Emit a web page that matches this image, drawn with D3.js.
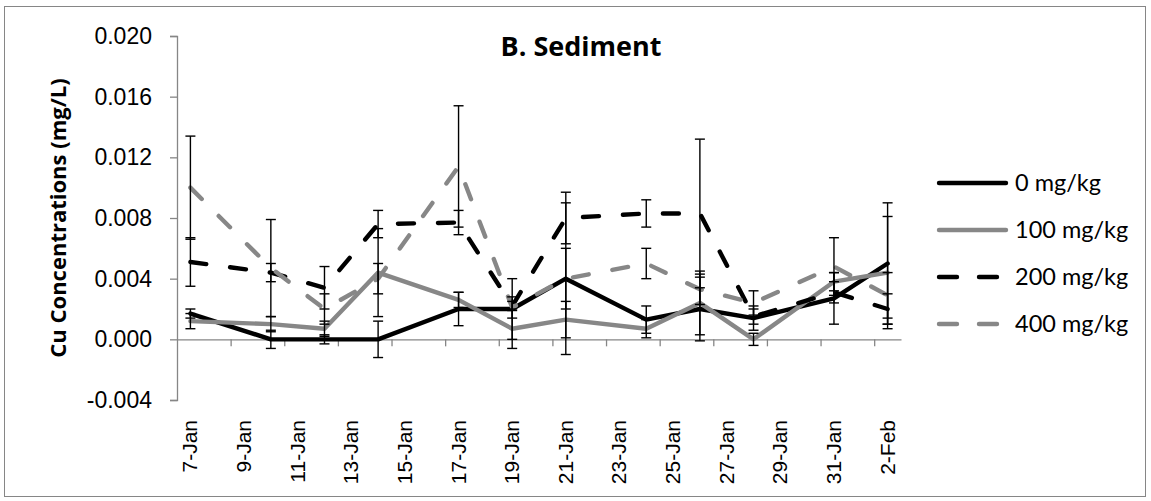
<!DOCTYPE html>
<html>
<head>
<meta charset="utf-8">
<script src="https://cdn.jsdelivr.net/npm/d3@7.9.0/dist/d3.min.js"></script>
<style>
  body { margin: 0; background: #fff; }
  svg { display: block; }
</style>
</head>
<body>
<svg id="chart" width="1151" height="501"></svg>
<script>
// sampling dates (Excel date axis, one slot per day)
const dates = ["2013-01-07", "2013-01-10", "2013-01-12", "2013-01-14", "2013-01-17", "2013-01-19",
               "2013-01-21", "2013-01-24", "2013-01-26", "2013-01-28", "2013-01-31", "2013-02-02"];
const tickLabels = ["7-Jan", "9-Jan", "11-Jan", "13-Jan", "15-Jan", "17-Jan", "19-Jan",
                    "21-Jan", "23-Jan", "25-Jan", "27-Jan", "29-Jan", "31-Jan", "2-Feb"];
const tickDates = ["2013-01-07", "2013-01-09", "2013-01-11", "2013-01-13", "2013-01-15", "2013-01-17", "2013-01-19",
                   "2013-01-21", "2013-01-23", "2013-01-25", "2013-01-27", "2013-01-29", "2013-01-31", "2013-02-02"];
const yTicks = [-0.004, 0.000, 0.004, 0.008, 0.012, 0.016, 0.020];

const seriesNames = ["0 mg/kg", "100 mg/kg", "200 mg/kg", "400 mg/kg"];
const cu0   = [0.0017, 0.0000, 0.0000, 0.0000, 0.0020, 0.0020, 0.0040, 0.0013, 0.0020, 0.0014, 0.0027, 0.0050];
const err0  = [0.0003, 0.0006, 0.0003, 0.0012, 0.0011, 0.0020, 0.0020, 0.0009, 0.0021, 0.0008, 0.0017, 0.0040];
const cu100  = [0.0012, 0.0010, 0.0007, 0.0044, 0.0026, 0.0007, 0.0013, 0.0007, 0.0024, 0.0000, 0.0038, 0.0044];
const err100 = [0.0005, 0.0005, 0.0005, 0.0029, 0.0005, 0.0013, 0.0012, 0.0006, 0.0021, 0.0004, 0.0006, 0.0037];
const cu200  = [0.0051, 0.0044, 0.0034, 0.0076, 0.0077, 0.0022, 0.0080, 0.0083, 0.0083, 0.0015, 0.0031, 0.0020];
const err200 = [0.0016, 0.0006, 0.0014, 0.0009, 0.0008, 0.0003, 0.0017, 0.0009, 0.0049, 0.0005, 0.0007, 0.0010];
const cu400  = [0.0100, 0.0047, 0.0020, 0.0040, 0.0114, 0.0021, 0.0040, 0.0050, 0.0033, 0.0024, 0.0048, 0.0029];
const err400 = [0.0034, 0.0032, 0.0010, 0.0010, 0.0040, 0.0007, 0.0050, 0.0010, 0.0010, 0.0008, 0.0019, 0.0015];

const parse = d3.timeParse("%Y-%m-%d");
const halfDay = 12 * 3600 * 1000;

const styles = [
  { color: "#000000", dash: null },
  { color: "#878787", dash: null },
  { color: "#000000", dash: "16,24" },
  { color: "#878787", dash: "16,24" }
];
const values = [cu0, cu100, cu200, cu400];
const errors = [err0, err100, err200, err400];

const svg = d3.select("#chart");

// chart area border
svg.append("rect")
  .attr("x", 4.5).attr("y", 6.5)
  .attr("width", 1141).attr("height", 490)
  .attr("fill", "none").attr("stroke", "#868686").attr("stroke-width", 1);

const x = d3.scaleTime()
  .domain([new Date(parse(tickDates[0]).getTime() - halfDay), new Date(parse("2013-02-02").getTime() + halfDay)])
  .range([177, 901]);
const y = d3.scaleLinear().domain([-0.004, 0.020]).range([400, 36]);

// y axis
const fmt = d => d3.format(".3f")(d).replace("−", "-");
const yAxis = svg.append("g")
  .attr("transform", "translate(177,0)")
  .call(d3.axisLeft(y).tickValues(yTicks).tickFormat(fmt).tickSize(7).tickPadding(18));
yAxis.select(".domain").attr("stroke", "#868686").attr("stroke-width", 1.3);
yAxis.selectAll(".tick line").attr("stroke", "#868686").attr("stroke-width", 1.3);
yAxis.selectAll(".tick text")
  .attr("font-family", "Liberation Sans, Arial, sans-serif").attr("font-size", 23).attr("fill", "#000");

// x axis at zero: tick marks at day-slot boundaries
const xAxis = svg.append("g")
  .attr("transform", `translate(0,${y(0)})`)
  .call(d3.axisBottom(x)
    .tickValues(tickDates.slice(1).map(d => new Date(parse(d).getTime() - halfDay)))
    .tickFormat("").tickSize(7).tickSizeOuter(0));
xAxis.select(".domain").attr("stroke", "#868686").attr("stroke-width", 1.3);
xAxis.selectAll(".tick line").attr("stroke", "#868686").attr("stroke-width", 1.3);

// x tick labels (low position), rotated
svg.append("g").selectAll("text")
  .data(tickDates)
  .join("text")
  .attr("transform", d => `translate(${x(parse(d)) + 7},420) rotate(-90)`)
  .attr("text-anchor", "end")
  .attr("font-family", "Liberation Sans, Arial, sans-serif")
  .attr("font-size", 21)
  .text((d, i) => tickLabels[i]);

// lines
const line = d3.line()
  .x((d, i) => x(parse(dates[i])))
  .y(d => y(d));

values.forEach((vals, s) => {
  svg.append("path")
    .attr("d", line(vals))
    .attr("fill", "none")
    .attr("stroke", styles[s].color)
    .attr("stroke-width", 4.4)
    .attr("stroke-linejoin", "round")
    .attr("stroke-linecap", "round")
    .attr("stroke-dasharray", styles[s].dash);
});

// error bars
values.forEach((vals, s) => {
  const g = svg.append("g").attr("stroke", "#000").attr("stroke-width", 1.4);
  vals.forEach((v, i) => {
    const cx = x(parse(dates[i]));
    const lo = y(v - errors[s][i]);
    const hi = y(v + errors[s][i]);
    g.append("line").attr("x1", cx).attr("x2", cx).attr("y1", lo).attr("y2", hi);
    g.append("line").attr("x1", cx - 5).attr("x2", cx + 5).attr("y1", lo).attr("y2", lo);
    g.append("line").attr("x1", cx - 5).attr("x2", cx + 5).attr("y1", hi).attr("y2", hi);
  });
});

// title
svg.append("text")
  .attr("x", 581).attr("y", 56)
  .attr("text-anchor", "middle")
  .attr("font-family", "Open Sans, sans-serif").attr("font-weight", "bold").attr("font-size", 27)
  .text("B. Sediment");

// y axis title
svg.append("text")
  .attr("transform", "translate(66,218) rotate(-90)")
  .attr("text-anchor", "middle")
  .attr("font-family", "Open Sans, sans-serif").attr("font-weight", "bold").attr("font-size", 22)
  .text("Cu Concentrations (mg/L)");

// legend
const legend = svg.append("g");
seriesNames.forEach((name, s) => {
  const ly = 183 + s * 47;
  legend.append("line")
    .attr("x1", 939).attr("x2", 1006).attr("y1", ly).attr("y2", ly)
    .attr("stroke", styles[s].color).attr("stroke-width", 4.4)
    .attr("stroke-linecap", "round")
    .attr("stroke-dasharray", styles[s].dash ? "18,22" : null);
  legend.append("text")
    .attr("x", 1015).attr("y", ly + 8)
    .attr("font-family", "Lato, sans-serif").attr("font-size", 23.5)
    .text(name);
});
</script>
</body>
</html>
